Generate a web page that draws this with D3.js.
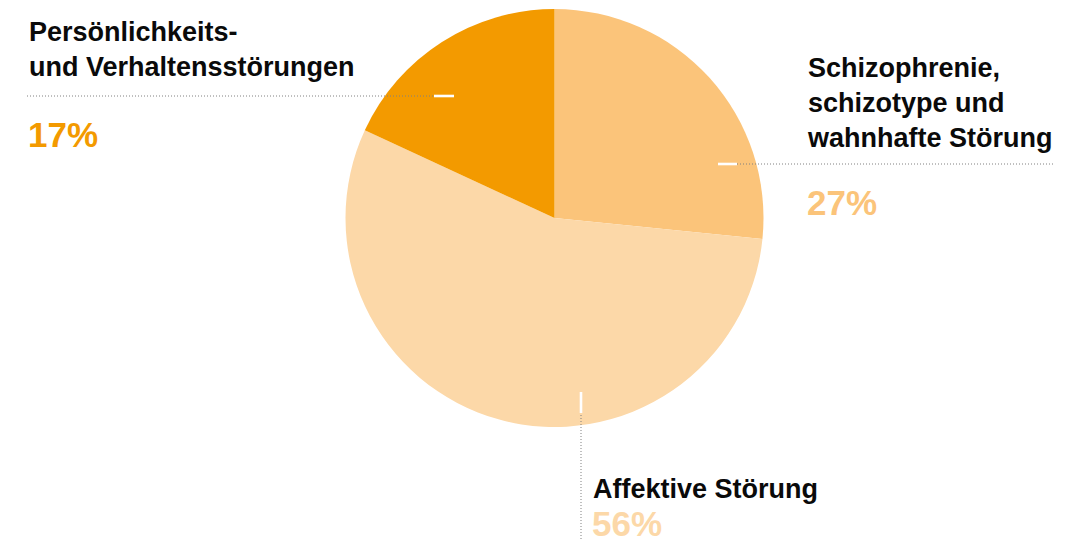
<!DOCTYPE html>
<html>
<head>
<meta charset="utf-8">
<script src="https://cdn.jsdelivr.net/npm/d3@7"></script>
<style>
  body { margin: 0; background: #fff; }
  #viz { width: 1068px; height: 540px; overflow: hidden; }
  text { font-family: "Liberation Sans", Arial, Helvetica, sans-serif; font-weight: bold; }
</style>
</head>
<body>
<div id="viz"><svg id="chart" width="1068" height="540"></svg></div>
<script>
// slice order: clockwise from 12 o'clock
const categories = ["Schizophrenie, schizotype und wahnhafte Störung",
                    "Affektive Störung",
                    "Persönlichkeits- und Verhaltensstörungen"]
const shares = [26.6, 55.3, 18.1]
const share_labels = ["27%", "56%", "17%"]
const label_lines = [
    ["Schizophrenie,", "schizotype und", "wahnhafte Störung"],
    ["Affektive Störung"],
    ["Persönlichkeits-", "und Verhaltensstörungen"]
]
const colors = ["#fbc47a", "#fcd8a8", "#f39a00"]

const svg = d3.select("#chart"),
    cx = 554.5,
    cy = 218,
    radius = 209,
    line_height = 35

// callout layout per slice: white tick, dotted leader, text block
const callouts = [
    { tick: [[718, 164], [737, 164]], leader: [[737, 164], [1054, 164]],
      x: 808, first_base: 77, pct_base: 215 },
    { tick: [[581, 392], [581, 413]], leader: [[581, 415], [581, 540]],
      x: 593, first_base: 498, pct_base: 536 },
    { tick: [[434, 96], [454, 96]], leader: [[27, 96], [434, 96]],
      x: 29, first_base: 41, pct_base: 146.5 }
]

const pie = d3.pie().sort(null).value(d => d)
const arc = d3.arc().innerRadius(0).outerRadius(radius)

const g = svg.append("g").attr("transform", `translate(${cx},${cy})`)

g.selectAll("path")
    .data(pie(shares))
    .enter().append("path")
    .attr("d", arc)
    .attr("fill", (d, i) => colors[i])

// dotted leaders
svg.append("g").selectAll("line")
    .data(callouts)
    .enter().append("line")
    .attr("x1", d => d.leader[0][0]).attr("y1", d => d.leader[0][1])
    .attr("x2", d => d.leader[1][0]).attr("y2", d => d.leader[1][1])
    .attr("stroke", "#808080")
    .attr("stroke-width", 1)
    .attr("stroke-dasharray", "1,2")

// white ticks on the slices
svg.append("g").selectAll("line")
    .data(callouts)
    .enter().append("line")
    .attr("x1", d => d.tick[0][0]).attr("y1", d => d.tick[0][1])
    .attr("x2", d => d.tick[1][0]).attr("y2", d => d.tick[1][1])
    .attr("stroke", "#fff")
    .attr("stroke-width", 2.6)

// category names and shares
categories.forEach(function(c, i) {
    let co = callouts[i]
    let t = svg.append("text")
        .attr("x", co.x)
        .attr("y", co.first_base)
        .attr("font-size", 27)
        .attr("fill", "#0a0a0a")
    label_lines[i].forEach(function(line, j) {
        t.append("tspan")
            .attr("x", co.x)
            .attr("dy", j == 0 ? 0 : line_height)
            .text(line)
    })

    svg.append("text")
        .attr("x", co.x - 1)
        .attr("y", co.pct_base)
        .attr("font-size", 35)
        .attr("fill", colors[i])
        .text(share_labels[i])
})
</script>
</body>
</html>
